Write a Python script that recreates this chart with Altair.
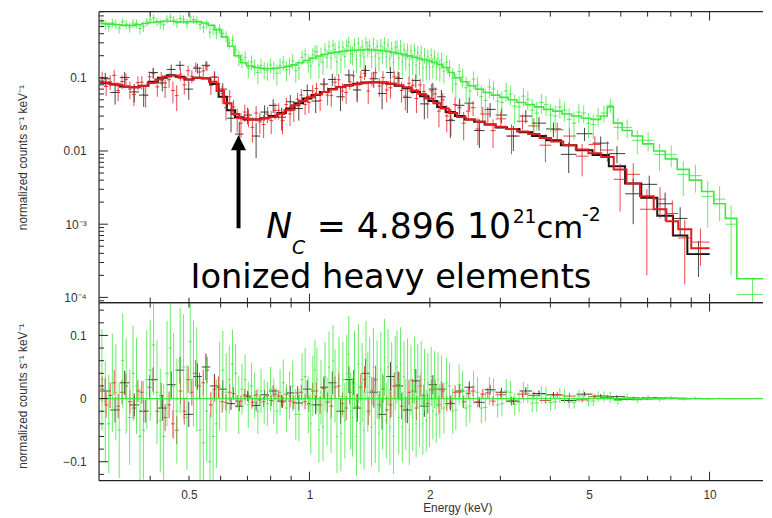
import altair as alt
import numpy as np
import pandas as pd

# ---------------- data ----------------
# Each spectrum: coarse bin edges (keV) with the model level of each bin and the 1-sigma error;
# residuals (data - model) are listed per coarse bin, one value per plotted data bin inside it.
black_edges = [0.300,0.318,0.336,0.355,0.375,0.396,0.418,0.440,0.463,0.487,0.512,0.538,0.565,0.593,0.622,
               0.652,0.684,0.718,0.754,0.792,0.832,0.874,0.918,0.964,1.012,1.062,1.114,1.168,1.225,1.285,
               1.348,1.414,1.483,1.556,1.633,1.714,1.800,1.890,1.985,2.085,2.19,2.31,2.44,2.58,2.74,
               2.92,3.12,3.35,3.60,3.90,4.25,4.65,5.10,5.60,6.15,6.75,7.40,8.10,8.80,10.0]
black_model = [0.085,0.081,0.076,0.074,0.078,0.088,0.100,0.108,0.103,0.095,0.100,0.098,0.082,0.055,0.036,
               0.029,0.027,0.027,0.028,0.030,0.033,0.038,0.045,0.052,0.058,0.064,0.070,0.075,0.079,0.083,
               0.086,0.087,0.086,0.083,0.078,0.072,0.064,0.056,0.048,0.040,0.034,0.030,0.027,0.025,0.023,
               0.021,0.020,0.018,0.016,0.014,0.012,0.0102,0.0088,0.0062,0.0036,0.0023,0.0013,0.0007,0.00039]
black_resid = [0.012,-0.018,0.025,-0.010,-0.020,0.030,-0.015,0.022,0.045,-0.025,0.035,0.050,0.020,0.015,-0.008,
               -0.012,0.004,-0.011,0.006,0.012,-0.004,0.009,-0.007,0.015,-0.010,0.018,0.025,-0.020,0.030,-0.015,
               0.040,0.010,-0.025,0.035,0.020,-0.018,0.028,-0.012,0.022,0.015,-0.008,0.012,0.018,-0.006,0.014,
               0.010,-0.004,0.012,0.008,0.006,-0.003,0.007,0.004,0.003,-0.001,0.0012,0.0006,0.0005,0.0000]
black_err = [0.020,0.020,0.019,0.018,0.018,0.019,0.020,0.021,0.021,0.020,0.021,0.021,0.019,0.014,0.010,
             0.008,0.008,0.008,0.008,0.009,0.010,0.011,0.012,0.014,0.015,0.017,0.018,0.020,0.021,0.022,
             0.023,0.024,0.024,0.023,0.022,0.021,0.019,0.017,0.015,0.013,0.011,0.010,0.009,0.008,0.008,
             0.007,0.006,0.006,0.005,0.0045,0.004,0.0035,0.003,0.0024,0.0016,0.0011,0.0008,0.0005,0.0002]

red_edges = [0.300,0.314,0.329,0.344,0.360,0.377,0.394,0.412,0.431,0.451,0.471,0.492,0.514,0.537,0.561,
             0.586,0.612,0.639,0.667,0.697,0.728,0.760,0.794,0.829,0.866,0.904,0.944,0.986,1.030,1.075,
             1.122,1.171,1.222,1.275,1.330,1.388,1.448,1.511,1.577,1.646,1.718,1.793,1.871,1.953,2.040,
             2.13,2.23,2.34,2.46,2.60,2.75,2.92,3.10,3.30,3.52,3.76,4.02,4.31,4.63,4.98,
             5.36,5.76,6.20,6.70,7.25,7.80,8.35,9.00,10.0]
red_model = [0.086,0.083,0.079,0.075,0.074,0.077,0.085,0.095,0.104,0.107,0.100,0.095,0.100,0.099,0.088,
             0.066,0.045,0.032,0.028,0.027,0.027,0.028,0.029,0.032,0.036,0.042,0.048,0.054,0.059,0.064,
             0.069,0.074,0.078,0.081,0.084,0.086,0.087,0.086,0.083,0.079,0.074,0.067,0.060,0.052,0.045,
             0.038,0.033,0.029,0.027,0.025,0.023,0.0215,0.020,0.0185,0.017,0.015,0.0135,0.012,0.0105,0.0093,
             0.0083,0.0056,0.0036,0.0024,0.0016,0.0011,0.00085,0.00047]
red_resid = [[0.015,-0.010],[0.005,0.025],[-0.012,0.010],[0.020,-0.005],[-0.015,0.012],[0.010,-0.020],
             [0.018,0.030],[-0.020,0.005],[-0.030,-0.010],[-0.040,-0.050],[0.012,-0.020],[0.030,0.010],
             [0.040,0.020],[0.025,0.045],[-0.010,0.015],[0.018,-0.005],[-0.006,0.010],[0.008,-0.004],
             [-0.004,0.006],[0.002,-0.006],[0.006,-0.002],[-0.005,0.004],[-0.003,0.007],[0.004,-0.006],
             [0.007,-0.004],[-0.006,0.009],[0.010,-0.005],[-0.008,0.012],[0.012,-0.010],[0.016,-0.006],
             [-0.012,0.018],[0.020,-0.008],[-0.015,0.010],[0.025,-0.012],[0.018,0.030],[-0.020,0.012],
             [0.030,-0.010],[0.015,-0.018],[-0.010,0.020],[0.022,-0.012],[-0.018,0.010],[0.012,-0.015],
             [0.020,0.005],[-0.008,0.014],[0.015,-0.010],[0.012,-0.008],[-0.006,0.010],[0.010,-0.005],
             [0.008,0.012],[-0.005,0.007],[0.009,-0.004],
             [0.006],[-0.004],[0.007],[0.005],[-0.003],[0.006],[0.004],[-0.002],[0.003],[0.002],
             [-0.0015],[0.0012],[-0.0008],[0.0006],[0.0003],[-0.0002],[0.0001]]
red_err = [0.020,0.020,0.019,0.019,0.018,0.018,0.019,0.020,0.021,0.022,0.021,0.021,0.021,0.021,0.020,
           0.017,0.013,0.010,0.009,0.008,0.008,0.008,0.009,0.009,0.010,0.011,0.012,0.013,0.014,0.016,
           0.017,0.018,0.019,0.020,0.021,0.022,0.022,0.022,0.021,0.021,0.020,0.019,0.017,0.016,0.014,
           0.012,0.011,0.010,0.009,0.008,0.008,0.007,0.007,0.006,0.006,0.005,0.005,0.0045,0.004,0.0036,
           0.0032,0.0026,0.002,0.0014,0.001,0.0007,0.0005,0.0003]

green_edges = [0.300,0.312,0.325,0.338,0.352,0.366,0.381,0.396,0.412,0.428,0.445,0.462,0.480,0.499,0.518,
               0.538,0.559,0.580,0.602,0.625,0.648,0.672,0.697,0.723,0.750,0.778,0.807,0.837,0.868,0.900,
               0.933,0.967,1.002,1.038,1.075,1.113,1.152,1.192,1.233,1.275,1.318,1.362,1.407,1.453,1.500,
               1.548,1.597,1.647,1.698,1.750,1.803,1.857,1.912,1.968,2.025,2.085,2.15,2.22,2.30,2.39,
               2.49,2.60,2.72,2.85,2.99,3.14,3.30,3.47,3.65,3.85,4.06,4.28,4.52,4.78,5.05,
               5.34,5.55,5.75,6.05,6.40,6.80,7.25,7.75,8.30,8.90,9.55,10.25,10.95,11.70,14.0]
green_model = [0.55,0.54,0.53,0.52,0.52,0.53,0.55,0.57,0.58,0.59,0.59,0.58,0.58,0.585,0.58,
               0.56,0.52,0.45,0.36,0.27,0.20,0.16,0.145,0.138,0.135,0.134,0.135,0.138,0.143,0.150,
               0.160,0.172,0.185,0.198,0.208,0.217,0.224,0.230,0.235,0.238,0.240,0.241,0.240,0.238,0.234,
               0.229,0.222,0.215,0.207,0.199,0.191,0.183,0.176,0.169,0.162,0.152,0.138,0.118,0.100,0.088,
               0.078,0.070,0.063,0.058,0.054,0.050,0.046,0.043,0.040,0.037,0.035,0.032,0.030,0.028,0.027,
               0.030,0.040,0.024,0.019,0.016,0.0125,0.0100,0.0078,0.0056,0.0040,0.0028,0.0019,0.0012,0.00018]
green_resid = [[0.030,-0.020],[-0.040,0.025],[0.010,-0.050],[0.060,0.020],[-0.030,0.040],[0.020,-0.060],
               [-0.050,0.030],[0.045,0.085],[0.010,-0.035],[-0.060,0.040],[0.080,0.020],[-0.020,0.060],
               [0.050,-0.030],[0.090,0.040],[0.030,-0.050],[-0.070,-0.020],[-0.100,-0.060],[-0.040,0.020],
               [0.045,0.010],[0.030,0.055],[0.040,-0.010],[0.015,0.030],[-0.010,0.020],[0.005,-0.020],
               [0.012,-0.005],[-0.008,0.015],[-0.004,-0.020],[0.010,0.025],[-0.015,0.005],[0.020,-0.025],
               [-0.025,0.030],[0.035,-0.010],
               [-0.040,0.020,0.045],[0.030,-0.050,0.010],[-0.045,0.035,-0.020],[0.050,-0.030,0.060],
               [0.020,-0.060,0.040],[-0.055,0.030,-0.035],[0.040,0.070,-0.020],[-0.030,0.045,-0.060],
               [0.055,-0.040,0.025],[-0.050,0.060,0.010],[0.035,-0.045,0.050],[-0.040,0.030,-0.055],
               [0.045,-0.020,0.065],[-0.035,0.050,-0.045],[0.030,-0.060,0.040],[0.050,-0.030,0.055],
               [-0.045,0.035,-0.025],[0.040,-0.050,0.030],[-0.030,0.045,-0.040],[0.035,-0.025,0.040],
               [-0.040,0.030,-0.035],[0.025,-0.030,0.035],[-0.020,0.030,-0.025],[0.030,-0.020,0.025],
               [-0.015,0.025],[0.020,-0.020],[-0.018,0.022],[0.015,-0.015],[-0.012,0.018],[0.010,-0.015],
               [-0.014,0.012],[0.012,-0.010],[-0.008,0.012],[0.010,-0.009],[-0.006,0.010],[0.008,-0.007],
               [-0.007,0.006],[0.006,-0.006],[-0.005,0.005],[0.004,-0.005],[-0.006,0.004],[0.005,-0.004],
               [-0.004,0.003],
               [0.003],[0.002],[-0.003],[0.002],[-0.002],[0.0015],[-0.001],[0.0012],[-0.0008],[0.0006],
               [-0.0004],[0.0003],[-0.0002],[-0.00007]]
green_err = [0.080,0.078,0.076,0.075,0.075,0.076,0.078,0.080,0.082,0.083,0.084,0.083,0.083,0.084,0.083,
             0.080,0.076,0.070,0.062,0.054,0.046,0.040,0.037,0.036,0.035,0.035,0.036,0.037,0.038,0.040,
             0.042,0.045,0.048,0.051,0.054,0.056,0.058,0.060,0.061,0.062,0.063,0.063,0.062,0.062,0.061,
             0.060,0.059,0.058,0.056,0.055,0.053,0.051,0.049,0.047,0.045,0.043,0.040,0.036,0.032,0.029,
             0.026,0.024,0.022,0.020,0.019,0.018,0.016,0.015,0.014,0.013,0.012,0.011,0.010,0.009,0.0085,
             0.0085,0.009,0.007,0.006,0.005,0.0042,0.0036,0.003,0.0024,0.0019,0.0015,0.0011,0.0008,0.00007]

# axis tick positions and labels
x_labels = [0.5, 1, 2, 5, 10]
x_major_ticks = [1, 10]
x_minor_ticks = [0.4, 0.5, 0.6, 0.7, 0.8, 0.9, 2, 3, 4, 5, 6, 7, 8, 9]
y1_labels = [1e-4, 1e-3, 1e-2, 0.1]
y1_minor_ticks = [k * 10.0 ** d for d in (-5, -4, -3, -2, -1) for k in range(2, 10)]
y2_labels = [-0.1, 0.0, 0.1]
y2_minor_ticks = [-0.12, -0.08, -0.06, -0.04, -0.02, 0.02, 0.04, 0.06, 0.08, 0.12, 0.14]

# annotation (arrow at the carbon edge)
arrow_e = [0.665]
arrow_lo = [8.8e-4]
arrow_hi = [0.0103]
arrow_head = [0.0130]

COL = {"black": "#151515", "red": "#e41a1c", "green": "#3ee83e"}
YTITLE = "normalized counts s\u207b\u00b9 keV\u207b\u00b9"

W, H1, H2 = 671, 294, 180
xs = alt.Scale(type="log", domain=[0.298, 13.6], nice=False)
ys1 = alt.Scale(type="log", domain=[8.5e-5, 0.8], nice=False)
ys2 = alt.Scale(domain=[-0.13, 0.152], nice=False, zero=False)


def bins(edges, model, resid, err):
    rows = []
    for i in range(len(model)):
        subs = resid[i] if isinstance(resid[i], list) else [resid[i]]
        sub_edges = np.geomspace(edges[i], edges[i + 1], len(subs) + 1)
        for j, r in enumerate(subs):
            lo, hi = sub_edges[j], sub_edges[j + 1]
            d = model[i] + r
            s = err[i]
            rows.append({"lo": lo, "hi": hi, "c": np.sqrt(lo * hi), "data": d,
                         "dlo": max(d - s, 1e-6), "dhi": d + s,
                         "res": r, "rlo": r - s, "rhi": r + s})
    return pd.DataFrame(rows)


def steps(edges, model):
    xs_, ys_ = [], []
    for i, m in enumerate(model):
        xs_ += [edges[i], edges[i + 1]]
        ys_ += [m, m]
    return pd.DataFrame({"x": xs_, "y": ys_, "o": np.arange(len(xs_))})


series = {
    "black": (bins(black_edges, black_model, black_resid, black_err), steps(black_edges, black_model)),
    "red": (bins(red_edges, red_model, red_resid, red_err), steps(red_edges, red_model)),
    "green": (bins(green_edges, green_model, green_resid, green_err), steps(green_edges, green_model)),
}

y1_axis = alt.Axis(values=y1_labels, ticks=False, domain=False, grid=False, labelPadding=13,
                   labelExpr="datum.value >= 0.05 ? '0.1' : datum.value >= 0.005 ? '0.01' : "
                             "datum.value >= 0.0005 ? '10\u207b\u00b3' : '10\u207b\u2074'",
                   title=YTITLE, titleX=-70, titleY=H1 / 2)
y2_axis = alt.Axis(values=y2_labels, ticks=False, domain=False, grid=False, labelPadding=13,
                   labelExpr="datum.value > 0.05 ? '0.1' : datum.value < -0.05 ? '\u22120.1' : '0'",
                   title=YTITLE, titleX=-70, titleY=H2 / 2 + 4)
x2_axis = alt.Axis(values=x_labels, ticks=False, domain=False, grid=False, format="~g",
                   labelPadding=9, title="Energy (keV)", titlePadding=2, titleX=362)


def X(f, bottom=False):
    return alt.X(f, scale=xs, axis=x2_axis if bottom else None)


def Y1(f):
    return alt.Y(f, scale=ys1, axis=y1_axis)


def Y2(f):
    return alt.Y(f, scale=ys2, axis=y2_axis)


def data_layers(df, color, Y, ycol, lo, hi, bottom):
    hb = alt.Chart(df).mark_rule(color=color, strokeWidth=1, opacity=0.85, clip=True).encode(
        x=X("lo:Q", bottom), x2="hi:Q", y=Y(ycol + ":Q"))
    vb = alt.Chart(df).mark_rule(color=color, strokeWidth=1, opacity=0.8, clip=True).encode(
        x=X("c:Q", bottom), y=Y(lo + ":Q"), y2=hi + ":Q")
    return [hb, vb]


def model_layer(sdf, color, width):
    return alt.Chart(sdf).mark_line(color=color, strokeWidth=width, clip=True).encode(
        x=X("x:Q"), y=Y1("y:Q"), order="o:Q")


def frame_and_ticks(H, Y, yvals_major, yvals_minor, bottom):
    t = pd.DataFrame({"v": x_major_ticks})
    tm = pd.DataFrame({"v": x_minor_ticks})
    ym = pd.DataFrame({"v": yvals_major})
    yn = pd.DataFrame({"v": yvals_minor})
    one = pd.DataFrame({"a": [0]})
    ink = "#222222"
    L = []
    for df, ln in ((t, 9), (tm, 5)):
        L.append(alt.Chart(df).mark_rule(color=ink, strokeWidth=1).encode(
            x=X("v:Q", bottom), y=alt.value(0), y2=alt.value(ln)))
        L.append(alt.Chart(df).mark_rule(color=ink, strokeWidth=1).encode(
            x=X("v:Q", bottom), y=alt.value(H - ln), y2=alt.value(H)))
    for df, ln in ((ym, 9), (yn, 5)):
        L.append(alt.Chart(df).mark_rule(color=ink, strokeWidth=1, clip=True).encode(
            y=Y("v:Q"), x=alt.value(0), x2=alt.value(ln)))
    L.append(alt.Chart(one).mark_rule(color=ink, strokeWidth=1.2).encode(
        x=alt.value(0), x2=alt.value(W), y=alt.value(0)))
    L.append(alt.Chart(one).mark_rule(color=ink, strokeWidth=1.2).encode(
        x=alt.value(0), x2=alt.value(W), y=alt.value(H)))
    L.append(alt.Chart(one).mark_rule(color=ink, strokeWidth=1.2).encode(
        x=alt.value(0), y=alt.value(0), y2=alt.value(H)))
    return L


# ---------------- top panel ----------------
top_layers = []
for name, lw in (("black", 2.0), ("red", 2.0), ("green", 1.6)):
    df, sdf = series[name]
    top_layers += data_layers(df, COL[name], Y1, "data", "dlo", "dhi", False)
    top_layers.append(model_layer(sdf, COL[name], lw))

arrow_df = pd.DataFrame({"e": arrow_e, "lo": arrow_lo, "hi": arrow_hi, "head": arrow_head})
top_layers.append(alt.Chart(arrow_df).mark_rule(color="black", strokeWidth=4).encode(
    x=X("e:Q"), y=Y1("lo:Q"), y2="hi:Q"))
top_layers.append(alt.Chart(arrow_df).mark_point(
    shape="M-1,1L1,1L0,-1Z", size=230, filled=True, color="black", opacity=1).encode(
    x=X("e:Q"), y=Y1("head:Q")))

one = pd.DataFrame({"a": [0]})
FONT = "DejaVu Sans"
texts = [
    ("N", 169, 229, 35, "italic", "left"),
    ("C", 195, 245, 19, "italic", "left"),
    ("= 4.896 10", 220, 229, 35, "normal", "left"),
    ("21", 418, 214, 19, "normal", "left"),
    ("cm", 442, 229, 31, "normal", "left"),
    ("-2", 488, 212, 19, "normal", "left"),
    ("Ionized heavy elements", 295, 279, 34, "normal", "center"),
]
for txt, tx, ty, fs, st, al in texts:
    top_layers.append(alt.Chart(one).mark_text(
        text=txt, font=FONT, fontSize=fs, fontStyle=st, align=al, baseline="alphabetic",
        color="black").encode(x=alt.value(tx), y=alt.value(ty)))

top_layers += frame_and_ticks(H1, Y1, y1_labels, y1_minor_ticks, False)
top = alt.layer(*top_layers).properties(width=W, height=H1)

# ---------------- bottom panel ----------------
bot_layers = []
for name in ("black", "red", "green"):
    df, _ = series[name]
    bot_layers += data_layers(df, COL[name], Y2, "res", "rlo", "rhi", True)
zero = pd.DataFrame({"z": [0.0]})
bot_layers.append(alt.Chart(zero).mark_rule(color=COL["green"], strokeWidth=1.2).encode(y=Y2("z:Q")))
bot_layers += frame_and_ticks(H2, Y2, y2_labels, y2_minor_ticks, True)
bottom = alt.layer(*bot_layers).properties(width=W, height=H2)

chart = alt.vconcat(top, bottom, spacing=0, bounds="flush").properties(
    padding={"left": 8, "top": 0, "right": 0, "bottom": 0}
).configure_view(stroke=None).configure_axis(
    labelFont="Liberation Sans", labelFontSize=12, labelColor="#333333",
    titleFont="Liberation Sans", titleFontSize=12, titleColor="#333333", titleFontWeight="normal"
)

chart.save("out.html", embed_options={"renderer": "svg", "actions": False})
